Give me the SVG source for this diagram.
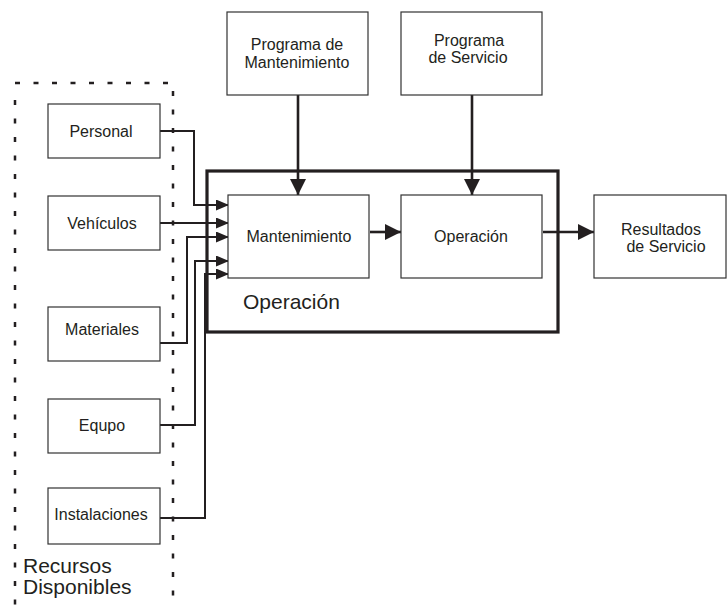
<svg xmlns="http://www.w3.org/2000/svg" width="727" height="606" viewBox="0 0 727 606">
<style>
.box{fill:#fff;stroke:#333;stroke-width:1.2}
.t{font-family:"Liberation Sans",Arial,sans-serif;font-size:16px;fill:#231f20;text-anchor:middle}
.big{font-family:"Liberation Sans",Arial,sans-serif;font-size:21px;fill:#231f20}
.c{fill:none;stroke:#231f20;stroke-width:2}
.c2{fill:none;stroke:#231f20;stroke-width:2.6}
.dot{fill:none;stroke:#231f20;stroke-width:2.5;stroke-dasharray:5 13.5}
</style>
<defs>
<marker id="as" markerUnits="userSpaceOnUse" markerWidth="13" markerHeight="11" refX="13" refY="5.5" orient="auto">
<path d="M0,0 L13,5.5 L0,11 z" fill="#231f20"/>
</marker>
<marker id="al" markerUnits="userSpaceOnUse" markerWidth="16" markerHeight="16" refX="16" refY="8" orient="auto">
<path d="M0,0 L16,8 L0,16 z" fill="#231f20"/>
</marker>
</defs>
<g id="recursos-frame">
<path class="dot" d="M15,83 H173"/>
<path class="dot" d="M15,100 V606"/>
<path class="dot" d="M173,91 V606"/>
<text class="big" x="23" y="573">Recursos</text>
<text class="big" x="23" y="594">Disponibles</text>
</g>
<g id="operacion-frame">
<rect x="207" y="171" width="351" height="161" fill="none" stroke="#231f20" stroke-width="3.2"/>
<text class="big" x="243" y="309">Operación</text>
</g>
<g id="connectors">
<path class="c" d="M160,131 H194 V205 H229" marker-end="url(#as)"/>
<path class="c" d="M160,223 H229" marker-end="url(#as)"/>
<path class="c" d="M160,343 H187 V237 H229" marker-end="url(#as)"/>
<path class="c" d="M160,425 H195 V261 H229" marker-end="url(#as)"/>
<path class="c" d="M160,518 H205 V274 H229" marker-end="url(#as)"/>
<path class="c2" d="M298,95 V195" marker-end="url(#al)"/>
<path class="c2" d="M472,95 V195" marker-end="url(#al)"/>
<path class="c2" d="M370,232 H401" marker-end="url(#al)"/>
<path class="c2" d="M543,232 H594" marker-end="url(#al)"/>
</g>
<g id="personal"><rect class="box" x="48" y="104" width="112" height="54"/><text class="t" x="101" y="137">Personal</text></g>
<g id="vehiculos"><rect class="box" x="48" y="196" width="112" height="54"/><text class="t" x="102" y="229">Vehículos</text></g>
<g id="materiales"><rect class="box" x="48" y="307" width="112" height="54"/><text class="t" x="102" y="335">Materiales</text></g>
<g id="equpo"><rect class="box" x="48" y="399" width="112" height="54"/><text class="t" x="102" y="431">Equpo</text></g>
<g id="instalaciones"><rect class="box" x="48" y="488" width="112" height="56"/><text class="t" x="101" y="520">Instalaciones</text></g>
<g id="prog-mant"><rect class="box" x="227" y="12" width="141" height="83"/><text class="t" x="297" y="50">Programa de</text><text class="t" x="297" y="68">Mantenimiento</text></g>
<g id="prog-serv"><rect class="box" x="401" y="12" width="141" height="83"/><text class="t" x="469" y="46">Programa</text><text class="t" x="468" y="63">de Servicio</text></g>
<g id="mantenimiento"><rect class="box" x="228" y="195" width="141" height="83"/><text class="t" x="299" y="242">Mantenimiento</text></g>
<g id="operacion"><rect class="box" x="401" y="195" width="141" height="83"/><text class="t" x="471" y="242">Operación</text></g>
<g id="resultados"><rect class="box" x="594" y="195" width="132" height="83"/><text class="t" x="661" y="235">Resultados</text><text class="t" x="666" y="252">de Servicio</text></g>
</svg>
